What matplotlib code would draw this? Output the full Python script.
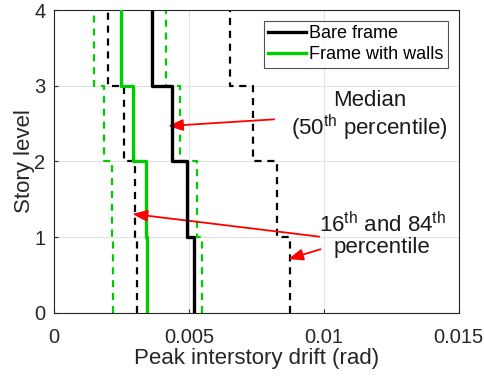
import numpy as np
import matplotlib
matplotlib.use("Agg")
from matplotlib import pyplot as plt

plt.rcParams['font.family'] = ['Liberation Sans', 'DejaVu Sans']

# peak interstory drift per story (story 1..4)
stories = [1, 2, 3, 4]
bare_med = [0.00519, 0.00495, 0.00438, 0.00364]
bare_p16 = [0.00309, 0.00299, 0.00259, 0.00201]
bare_p84 = [0.00874, 0.00828, 0.00738, 0.00653]
wall_med = [0.00346, 0.00341, 0.00294, 0.00247]
wall_p16 = [0.00220, 0.00217, 0.00185, 0.00149]
wall_p84 = [0.00547, 0.00531, 0.00469, 0.00417]

black = 'k'
green = '#00cc00'


def stair(vals):
    # each story drift drawn as a vertical segment from level i-1 to i
    xs = np.repeat(vals, 2)
    ys = []
    for s in stories:
        ys += [s - 1, s]
    return xs, np.array(ys)


fig = plt.figure(figsize=(4.85, 3.76), dpi=100)
ax = fig.add_axes([0.111, 0.168, 0.835, 0.805])

x, y = stair(bare_med)
ax.plot(x, y, color=black, lw=2.4, label='Bare frame', zorder=4)
x, y = stair(wall_med)
ax.plot(x, y, color=green, lw=2.4, label='Frame with walls', zorder=3)
for vals, c in [(bare_p16, black), (bare_p84, black), (wall_p16, green), (wall_p84, green)]:
    x, y = stair(vals)
    ax.plot(x, y, color=c, lw=1.6, ls=(0, (3.2, 2.6)), zorder=2)

ax.set_xlim(0, 0.015)
ax.set_ylim(0, 4)
ax.set_xticks([0, 0.005, 0.01, 0.015])
ax.set_xticklabels(['0', '0.005', '0.01', '0.015'])
ax.set_yticks([0, 1, 2, 3, 4])
ax.grid(True, color='#e3e3e3', lw=0.8)
ax.set_axisbelow(True)
ax.tick_params(direction='in', length=3, labelsize=14.5, colors='#262626')
ax.tick_params(axis='x', pad=11)
ax.tick_params(axis='y', pad=6)
for sp in ax.spines.values():
    sp.set_color('#262626')
    sp.set_linewidth(0.8)
ax.set_xlabel('Peak interstory drift (rad)', fontsize=16, color='#262626', labelpad=1)
ax.set_ylabel('Story level', fontsize=16, color='#262626', labelpad=-0.5)

leg = ax.legend(loc='upper right', fontsize=13, frameon=True, fancybox=False,
                edgecolor='#262626', handlelength=2.1, handletextpad=0.15,
                borderpad=0.25, labelspacing=0.2, borderaxespad=0.6)
leg.get_frame().set_linewidth(0.8)

ap = dict(arrowstyle='-|>,head_length=0.9,head_width=0.35', color='red', lw=1.3,
          shrinkA=0, shrinkB=0)
ax.annotate('', xy=(0.00423, 2.469), xytext=(0.00816, 2.557), arrowprops=ap)
ax.annotate('', xy=(0.00291, 1.307), xytext=(0.00983, 1.007), arrowprops=ap)
ax.annotate('', xy=(0.00868, 0.709), xytext=(0.00988, 0.841), arrowprops=ap)

tk = dict(ha='center', va='center', fontsize=16, color='#1a1a1a')
ax.text(0.0117, 2.80, 'Median', **tk)
ax.text(0.0117, 2.44, '(50$^{\\mathregular{th}}$ percentile)', **tk)
ax.text(0.01219, 1.17, '16$^{\\mathregular{th}}$ and 84$^{\\mathregular{th}}$', **tk)
ax.text(0.01215, 0.858, 'percentile', **tk)

fig.savefig('out.png', dpi=100)
